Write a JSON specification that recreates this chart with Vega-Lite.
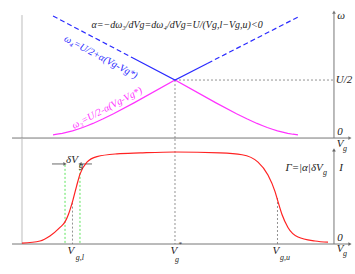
{
  "$schema": "https://vega.github.io/schema/vega-lite/v6.json",
  "width": 355,
  "height": 274,
  "padding": 0,
  "autosize": {"type": "fit", "contains": "padding"},
  "config": {"view": {"stroke": null}, "text": {"font": "Liberation Serif", "fontStyle": "italic", "color": "#222222"}},
  "datasets": {
    "topAxis": [
      {"v": 0.41, "w": 0, "v2": 3.707, "w2": 0},
      {"v": 3.551, "w": 0, "v2": 3.551, "w2": 1.086}
    ],
    "topHeads": [
      {"v": 3.707, "w": 0, "s": "triangle-right"},
      {"v": 3.551, "w": 1.086, "s": "triangle-up"}
    ],
    "topLeft": [{"v": 0.507, "w": 1.06, "v2": 0.507, "w2": 0}],
    "topDash": [
      {"v": 2.0, "w": 0.5, "v2": 3.551, "w2": 0.5},
      {"v": 2.0, "w": 0.5, "v2": 2.0, "w2": 0}
    ],
    "magenta": [
      {"v": 0.81, "w": 0.027}, {"v": 0.85, "w": 0.033}, {"v": 0.9, "w": 0.041}, {"v": 0.95, "w": 0.051},
      {"v": 1.0, "w": 0.062}, {"v": 1.05, "w": 0.076}, {"v": 1.1, "w": 0.091}, {"v": 1.15, "w": 0.108},
      {"v": 1.2, "w": 0.126}, {"v": 1.3, "w": 0.166}, {"v": 1.4, "w": 0.209}, {"v": 1.6, "w": 0.303},
      {"v": 2.0, "w": 0.5},
      {"v": 2.4, "w": 0.303}, {"v": 2.6, "w": 0.209}, {"v": 2.7, "w": 0.166}, {"v": 2.8, "w": 0.126},
      {"v": 2.85, "w": 0.108}, {"v": 2.9, "w": 0.091}, {"v": 2.95, "w": 0.076}, {"v": 3.0, "w": 0.062},
      {"v": 3.05, "w": 0.051}, {"v": 3.1, "w": 0.041}, {"v": 3.15, "w": 0.033}, {"v": 3.2, "w": 0.027}
    ],
    "blueSolid": [{"v": 1.59, "w": 0.69}, {"v": 2.0, "w": 0.5}, {"v": 2.32, "w": 0.645}],
    "blueDash": [
      {"k": "L", "v": 0.81, "w": 1.052}, {"k": "L", "v": 1.59, "w": 0.69},
      {"k": "R", "v": 2.32, "w": 0.645}, {"k": "R", "v": 3.2, "w": 1.043}
    ],
    "topTitle": [{"v": 2.02, "w": 0.974, "t": "α=−dω₃/dVg=dω₄/dVg=U/(Vg,l−Vg,u)<0"}],
    "topMain": [
      {"v": 3.62, "w": 1.052, "t": "ω"},
      {"v": 3.649, "w": 0.5, "t": "U/2"},
      {"v": 3.61, "w": 0.052, "t": "0"},
      {"v": 3.61, "w": -0.052, "t": "V"}
    ],
    "topSub": [{"v": 3.659, "w": -0.095, "t": "g"}],
    "blueLabel": [{"v": 1.278, "w": 0.698, "t": "ω₄=U/2+α(Vg-Vg*)"}],
    "magLabel": [{"v": 1.337, "w": 0.259, "t": "ω₃=U/2-α(Vg-Vg*)"}],
    "botAxis": [
      {"v": 0.41, "i": 0, "v2": 3.707, "i2": 0},
      {"v": 3.551, "i": 0, "v2": 3.551, "i2": 1.022}
    ],
    "botHeads": [
      {"v": 3.707, "i": 0, "s": "triangle-right"},
      {"v": 3.551, "i": 1.022, "s": "triangle-up"},
      {"v": 0.927, "i": 0.87, "s": "triangle-right"},
      {"v": 1.073, "i": 0.87, "s": "triangle-left"}
    ],
    "botArrows": [
      {"v": 0.8, "i": 0.87, "v2": 0.927, "i2": 0.87},
      {"v": 1.19, "i": 0.87, "v2": 1.073, "i2": 0.87}
    ],
    "botLeft": [{"v": 0.507, "i": 1.141, "v2": 0.507, "i2": 0}],
    "botDash": [
      {"v": 2.0, "i": 1.141, "v2": 2.0, "i2": 0},
      {"v": 1.0, "i": 0.45, "v2": 1.0, "i2": 0},
      {"v": 3.0, "i": 0.5, "v2": 3.0, "i2": 0}
    ],
    "green": [
      {"v": 0.927, "i": 0.86, "v2": 0.927, "i2": 0},
      {"v": 1.073, "i": 0.86, "v2": 1.073, "i2": 0}
    ],
    "red": [
      {"v": 0.507, "i": 0.01}, {"v": 0.683, "i": 0.033}, {"v": 0.78, "i": 0.087}, {"v": 0.878, "i": 0.18},
      {"v": 0.927, "i": 0.24}, {"v": 0.96, "i": 0.32}, {"v": 1.0, "i": 0.46}, {"v": 1.04, "i": 0.63},
      {"v": 1.073, "i": 0.76}, {"v": 1.141, "i": 0.89}, {"v": 1.239, "i": 0.95}, {"v": 1.434, "i": 0.98},
      {"v": 1.659, "i": 0.99}, {"v": 2.0, "i": 1.0}, {"v": 2.439, "i": 0.99}, {"v": 2.654, "i": 0.97},
      {"v": 2.81, "i": 0.89}, {"v": 2.907, "i": 0.75}, {"v": 2.976, "i": 0.57}, {"v": 3.005, "i": 0.46},
      {"v": 3.044, "i": 0.32}, {"v": 3.102, "i": 0.18}, {"v": 3.2, "i": 0.076}, {"v": 3.366, "i": 0.033},
      {"v": 3.493, "i": 0.02}
    ],
    "botMain": [
      {"v": 3.62, "i": 0.826, "t": "I"},
      {"v": 3.61, "i": 0.065, "t": "0"},
      {"v": 3.61, "i": -0.054, "t": "V"},
      {"v": 0.985, "i": -0.076, "t": "V"},
      {"v": 1.99, "i": -0.076, "t": "V"},
      {"v": 2.985, "i": -0.076, "t": "V"},
      {"v": 0.995, "i": 0.913, "t": "δV"},
      {"v": 3.259, "i": 0.826, "t": "Γ=|α|δV"}
    ],
    "botSub": [
      {"v": 3.659, "i": -0.109, "t": "g"},
      {"v": 1.073, "i": -0.152, "t": "g,l"},
      {"v": 2.02, "i": -0.17, "t": "g"},
      {"v": 3.073, "i": -0.152, "t": "g,u"},
      {"v": 1.083, "i": 0.848, "t": "g"},
      {"v": 3.463, "i": 0.772, "t": "g"}
    ],
    "botSup": [{"v": 2.049, "i": 0.0, "t": "*"}]
  },
  "encoding": {
    "x": {"field": "v", "type": "quantitative", "scale": {"domain": [0.2927, 3.7561], "nice": false, "zero": false}, "axis": null}
  },
  "layer": [
    {
      "encoding": {
        "y": {"field": "w", "type": "quantitative", "scale": {"domain": [-1.172, 1.19], "nice": false, "zero": false}, "axis": null}
      },
      "layer": [
        {"data": {"name": "topLeft"}, "mark": {"type": "rule", "color": "#dddddd", "strokeWidth": 2},
         "encoding": {"x2": {"field": "v2"}, "y2": {"field": "w2"}}},
        {"data": {"name": "topDash"}, "mark": {"type": "rule", "color": "#777777", "strokeWidth": 0.8, "strokeDash": [2, 2]},
         "encoding": {"x2": {"field": "v2"}, "y2": {"field": "w2"}}},
        {"data": {"name": "topAxis"}, "mark": {"type": "rule", "color": "#777777", "strokeWidth": 1},
         "encoding": {"x2": {"field": "v2"}, "y2": {"field": "w2"}}},
        {"data": {"name": "topHeads"}, "mark": {"type": "point", "filled": true, "color": "#777777", "size": 14, "opacity": 1},
         "encoding": {"shape": {"field": "s", "type": "nominal", "scale": null}}},
        {"data": {"name": "magenta"}, "mark": {"type": "line", "color": "#ff33ff", "strokeWidth": 1.2, "interpolate": "linear"}},
        {"data": {"name": "blueSolid"}, "mark": {"type": "line", "color": "#2a2aff", "strokeWidth": 1.2}},
        {"data": {"name": "blueDash"}, "mark": {"type": "line", "color": "#2a2aff", "strokeWidth": 1.2, "strokeDash": [5, 3]},
         "encoding": {"detail": {"field": "k", "type": "nominal"}}},
        {"data": {"name": "topTitle"}, "mark": {"type": "text", "fontSize": 10, "align": "center", "baseline": "middle"},
         "encoding": {"text": {"field": "t"}}},
        {"data": {"name": "topMain"}, "mark": {"type": "text", "fontSize": 11, "align": "center", "baseline": "middle"},
         "encoding": {"text": {"field": "t"}}},
        {"data": {"name": "topSub"}, "mark": {"type": "text", "fontSize": 8, "align": "center", "baseline": "middle"},
         "encoding": {"text": {"field": "t"}}},
        {"data": {"name": "blueLabel"}, "mark": {"type": "text", "fontSize": 10, "align": "center", "baseline": "middle", "angle": 28, "color": "#2a2aff"},
         "encoding": {"text": {"field": "t"}}},
        {"data": {"name": "magLabel"}, "mark": {"type": "text", "fontSize": 10, "align": "center", "baseline": "middle", "angle": 332, "color": "#ff33ff"},
         "encoding": {"text": {"field": "t"}}}
      ]
    },
    {
      "encoding": {
        "y": {"field": "i", "type": "quantitative", "scale": {"domain": [-0.326, 2.652], "nice": false, "zero": false}, "axis": null}
      },
      "layer": [
        {"data": {"name": "botLeft"}, "mark": {"type": "rule", "color": "#dddddd", "strokeWidth": 2},
         "encoding": {"x2": {"field": "v2"}, "y2": {"field": "i2"}}},
        {"data": {"name": "botDash"}, "mark": {"type": "rule", "color": "#777777", "strokeWidth": 0.8, "strokeDash": [2, 2]},
         "encoding": {"x2": {"field": "v2"}, "y2": {"field": "i2"}}},
        {"data": {"name": "green"}, "mark": {"type": "rule", "color": "#33dd33", "strokeWidth": 0.8, "strokeDash": [2, 2]},
         "encoding": {"x2": {"field": "v2"}, "y2": {"field": "i2"}}},
        {"data": {"name": "botAxis"}, "mark": {"type": "rule", "color": "#777777", "strokeWidth": 1},
         "encoding": {"x2": {"field": "v2"}, "y2": {"field": "i2"}}},
        {"data": {"name": "botArrows"}, "mark": {"type": "rule", "color": "#444444", "strokeWidth": 0.8},
         "encoding": {"x2": {"field": "v2"}, "y2": {"field": "i2"}}},
        {"data": {"name": "botHeads"}, "mark": {"type": "point", "filled": true, "color": "#666666", "size": 14, "opacity": 1},
         "encoding": {"shape": {"field": "s", "type": "nominal", "scale": null}}},
        {"data": {"name": "red"}, "mark": {"type": "line", "color": "#ff2222", "strokeWidth": 1.2, "interpolate": "monotone"}},
        {"data": {"name": "botMain"}, "mark": {"type": "text", "fontSize": 11, "align": "center", "baseline": "middle"},
         "encoding": {"text": {"field": "t"}}},
        {"data": {"name": "botSub"}, "mark": {"type": "text", "fontSize": 8, "align": "center", "baseline": "middle"},
         "encoding": {"text": {"field": "t"}}},
        {"data": {"name": "botSup"}, "mark": {"type": "text", "fontSize": 7, "align": "center", "baseline": "middle"},
         "encoding": {"text": {"field": "t"}}}
      ]
    }
  ],
  "resolve": {"scale": {"y": "independent"}}
}
